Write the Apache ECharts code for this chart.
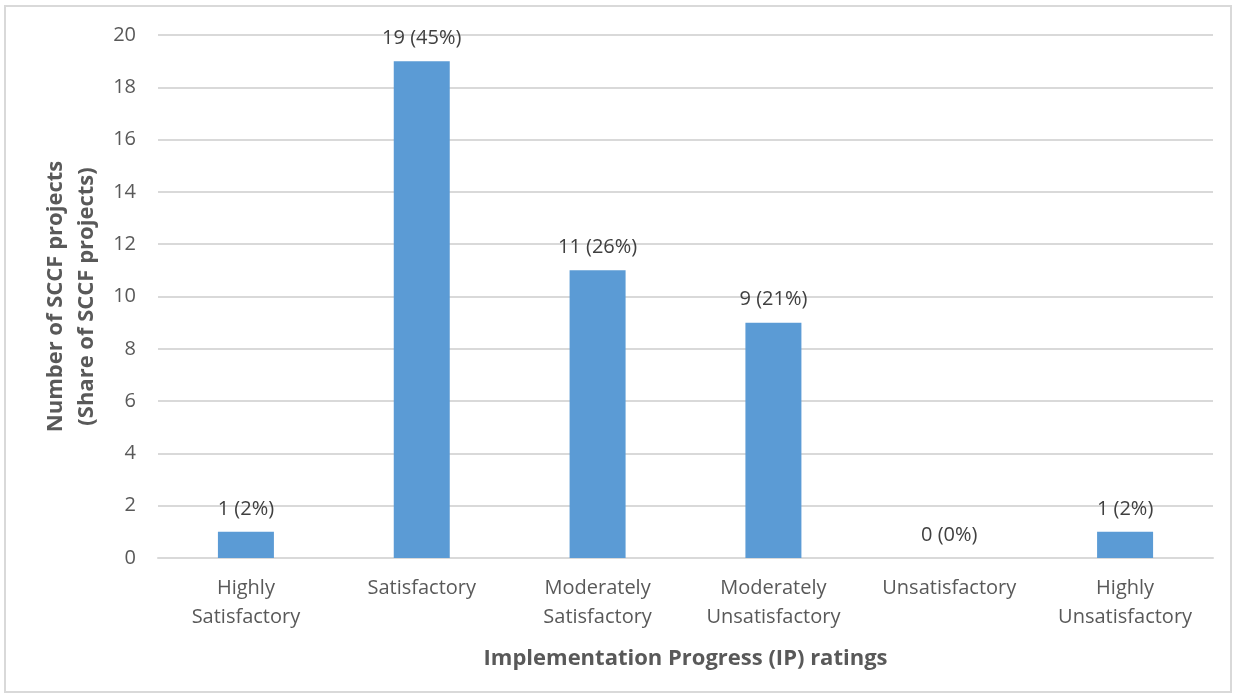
<!DOCTYPE html>
<html>
<head>
<meta charset="utf-8">
<script src="https://cdn.jsdelivr.net/npm/echarts@6/dist/echarts.min.js"></script>
<style>
  html, body { margin: 0; padding: 0; background: #fff; }
  #main { position: absolute; left: 4px; top: 5px; width: 1228px; height: 688px; border: 2px solid #d9d9d9; box-sizing: border-box; }
</style>
</head>
<body>
<div id="main"></div>
<script>
// IP ratings of SCCF projects
var categories = ['Highly\nSatisfactory', 'Satisfactory', 'Moderately\nSatisfactory', 'Moderately\nUnsatisfactory', 'Unsatisfactory', 'Highly\nUnsatisfactory'];
var counts = [1, 19, 11, 9, 0, 1];
var shares = ['2%', '45%', '26%', '21%', '0%', '2%'];
var yTicks = [0, 2, 4, 6, 8, 10, 12, 14, 16, 18, 20];

var font = 'Open Sans';
var textColor = '#595959';

var chart = echarts.init(document.getElementById('main'));
chart.setOption({
  animation: false,
  grid: { left: 152, right: 17, top: 28, bottom: 133, containLabel: false },
  xAxis: {
    type: 'category',
    data: categories,
    name: 'Implementation Progress (IP) ratings',
    nameLocation: 'middle',
    nameGap: 90,
    nameTextStyle: { fontFamily: font, fontSize: 22, fontWeight: 'bold', color: textColor },
    axisLine: { lineStyle: { color: '#d9d9d9', width: 2 } },
    axisTick: { show: false },
    axisLabel: { fontFamily: font, fontSize: 20, color: textColor, lineHeight: 29, margin: 16, interval: 0 }
  },
  yAxis: {
    type: 'value',
    min: yTicks[0],
    max: yTicks[yTicks.length - 1],
    interval: 2,
    name: 'Number of SCCF projects\n(Share of SCCF projects)',
    nameLocation: 'middle',
    nameGap: 52,
    nameTextStyle: { fontFamily: font, fontSize: 22, fontWeight: 'bold', color: textColor, lineHeight: 31 },
    axisLine: { show: false },
    axisTick: { show: false },
    axisLabel: { fontFamily: font, fontSize: 20, color: textColor, margin: 22 },
    splitLine: { lineStyle: { color: '#d9d9d9', width: 2 } }
  },
  series: [{
    type: 'bar',
    data: counts,
    barWidth: 56,
    itemStyle: { color: '#5b9bd5' },
    label: {
      show: true,
      position: 'top',
      distance: 13,
      fontFamily: font,
      fontSize: 20,
      color: '#404040',
      formatter: function (p) { return p.value + ' (' + shares[p.dataIndex] + ')'; }
    }
  }]
});
</script>
</body>
</html>
